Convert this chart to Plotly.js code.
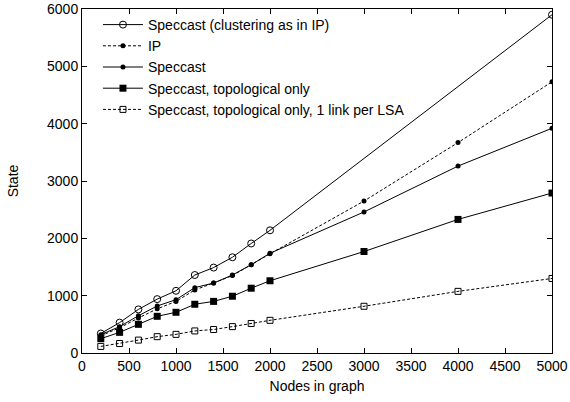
<!DOCTYPE html>
<html>
<head>
<meta charset="utf-8">
<script src="https://cdn.plot.ly/plotly-3.0.1.min.js"></script>
<style>html,body{margin:0;padding:0;background:#fff;}#chart{width:570px;height:402px;}</style>
</head>
<body>
<div id="chart"></div>
<script>
const nodes = [200,400,600,800,1000,1200,1400,1600,1800,2000,3000,4000,5000];
const nodesClustering = [200,400,600,800,1000,1200,1400,1600,1800,2000,5000];
const speccastClustering = [340,530,760,940,1085,1360,1490,1670,1910,2140,5900];
const ipState = [300,440,610,770,900,1100,1220,1350,1540,1730,2650,3670,4730];
const speccastState = [320,460,650,820,930,1140,1220,1360,1540,1740,2460,3260,3920];
const topoState = [250,360,500,640,710,850,900,990,1130,1260,1770,2330,2790];
const topoOneLinkState = [115,165,225,285,325,385,410,460,515,570,815,1075,1300];
const names = [
  "Speccast (clustering as in IP)",
  "IP",
  "Speccast",
  "Speccast, topological only",
  "Speccast, topological only, 1 link per LSA"
];

const traces = [
  {x: nodesClustering, y: speccastClustering, name: names[0], mode: "lines+markers",
   line: {color: "#000", width: 1}, marker: {symbol: "circle-open", size: 7, color: "#000", line: {width: 1}}},
  {x: nodes, y: ipState, name: names[1], mode: "lines+markers",
   line: {color: "#000", width: 1, dash: "3px,2px"}, marker: {symbol: "circle", size: 5, color: "#000"}},
  {x: nodes, y: speccastState, name: names[2], mode: "lines+markers",
   line: {color: "#000", width: 1}, marker: {symbol: "circle", size: 5, color: "#000"}},
  {x: nodes, y: topoState, name: names[3], mode: "lines+markers",
   line: {color: "#000", width: 1}, marker: {symbol: "square", size: 7, color: "#000"}},
  {x: nodes, y: topoOneLinkState, name: names[4], mode: "lines+markers",
   line: {color: "#000", width: 1, dash: "3px,2px"}, marker: {symbol: "square-open", size: 6, color: "#000", line: {width: 1}}}
];

const layout = {
  width: 570, height: 402,
  margin: {l: 82, r: 18, t: 9, b: 49},
  paper_bgcolor: "#fff", plot_bgcolor: "#fff",
  font: {family: "Liberation Sans, Arial, sans-serif", size: 14, color: "#000"},
  showlegend: true,
  legend: {x: 0.034, y: 1, xanchor: "left", yanchor: "top", bgcolor: "rgba(255,255,255,0)",
           borderwidth: 0, font: {size: 14}, tracegroupgap: 0, itemwidth: 40},
  xaxis: {range: [0, 5000], dtick: 500, tick0: 0, ticks: "inside", ticklen: 5, tickcolor: "#000",
          showline: true, linecolor: "#000", linewidth: 1, mirror: "ticks", showgrid: false, zeroline: false,
          tickfont: {size: 14},
          title: {text: "Nodes in graph", font: {size: 14}, standoff: 8}},
  yaxis: {range: [0, 6000], dtick: 1000, tick0: 0, ticks: "inside", ticklen: 5, tickcolor: "#000",
          showline: true, linecolor: "#000", linewidth: 1, mirror: "ticks", showgrid: false, zeroline: false,
          tickfont: {size: 14},
          title: {text: "State", font: {size: 14}, standoff: 25}}
};

Plotly.newPlot("chart", traces, layout, {displayModeBar: false, staticPlot: true});
</script>
</body>
</html>
